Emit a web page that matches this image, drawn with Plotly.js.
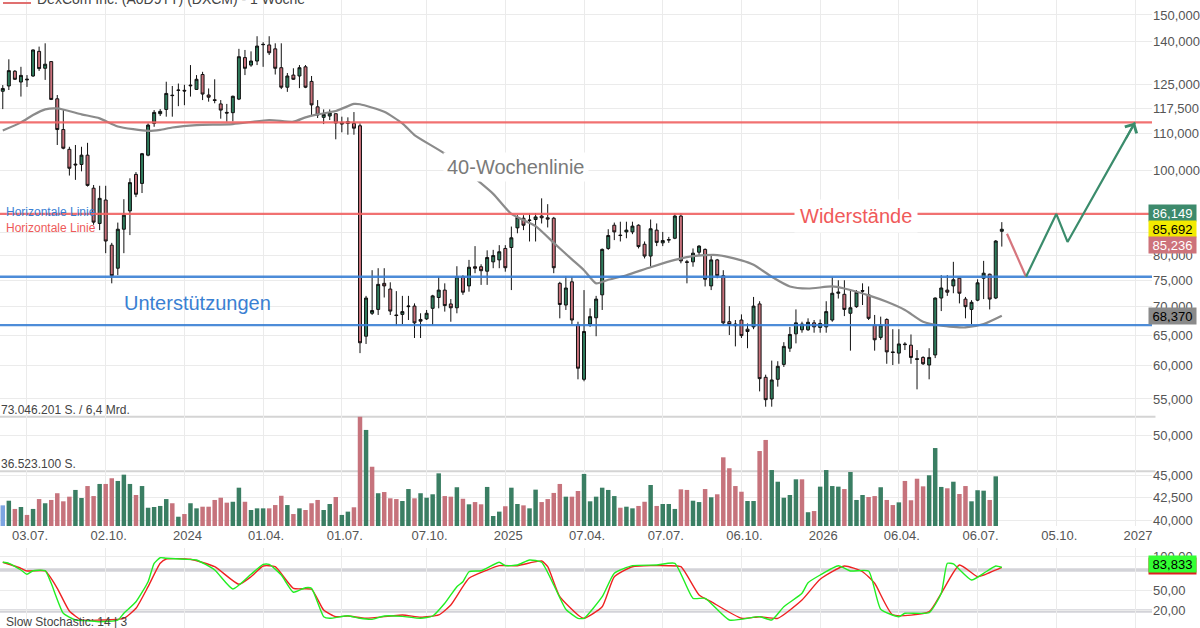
<!DOCTYPE html>
<html><head><meta charset="utf-8">
<script src="https://cdn.plot.ly/plotly-3.0.1.min.js"></script>
<style>html,body{margin:0;padding:0;background:#fff}#chart{width:1200px;height:628px}</style>
</head><body><div id="chart"></div>
<script>
// ---- weekly candles, DexCom (EUR), first week 2023-06-05 ----
const firstWeek = '2023-06-05';
const open = [122.9,124.6,129.5,125.9,126.6,127.9,136.4,130.5,132.8,120.5,
111.2,105.6,101.6,101.5,104.0,95.4,87.0,92.5,82.2,77.4,
85.7,89.9,98.9,96.6,104.0,113.0,115.9,117.2,121.5,123.3,
123.2,124.9,123.5,128.4,121.7,120.2,118.9,116.3,116.2,120.4,
134.2,131.6,133.0,138.8,138.7,137.3,130.7,124.2,128.2,127.9,
131.0,126.1,118.0,114.8,115.2,115.9,112.8,113.0,113.0,112.3,
64.8,68.8,69.5,74.4,73.3,68.5,68.6,70.0,70.1,67.7,
67.8,69.7,71.7,73.1,70.5,69.8,75.7,73.9,77.7,77.7,
76.8,78.7,79.1,81.5,81.7,86.0,88.2,87.8,87.9,88.7,
88.3,88.2,74.4,70.3,74.7,66.8,57.9,66.9,68.0,72.2,
81.5,86.6,84.4,85.1,85.1,86.6,82.4,79.9,85.5,82.7,
83.3,83.7,88.7,78.7,78.7,80.7,81.3,73.9,79.1,75.9,
67.3,66.9,67.6,66.0,66.4,70.5,58.2,55.0,57.9,60.2,
62.8,65.2,65.9,65.9,67.1,66.3,66.4,67.6,72.5,72.3,
68.8,70.0,73.0,72.2,66.7,64.6,67.7,62.2,62.0,63.5,
63.3,61.1,61.3,60.1,61.7,71.6,73.1,73.9,75.4,71.4,
69.5,71.2,75.4,76.2,71.6,85.236];
const high = [124.9,133.6,129.9,131.0,128.2,137.1,138.1,139.3,133.0,121.7,
117.0,106.3,106.8,106.3,107.4,96.2,96.0,96.0,82.7,87.2,
92.7,97.9,99.5,104.6,113.0,117.0,117.3,126.0,124.6,125.4,
125.0,131.6,128.2,129.3,123.8,126.8,120.1,118.9,121.5,137.3,
136.9,136.4,141.9,139.7,141.9,139.3,139.3,128.9,130.5,131.6,
131.6,127.9,120.1,117.2,117.2,115.9,115.0,114.8,116.4,113.0,
72.0,77.0,77.4,77.4,74.6,72.9,72.0,72.0,70.6,68.8,
69.4,72.2,75.7,74.4,71.4,77.8,76.0,79.1,82.0,78.2,
81.1,81.2,82.2,82.2,86.3,88.9,88.9,89.3,89.4,92.9,
91.5,88.5,74.7,75.8,75.7,67.3,73.1,69.7,72.0,81.5,
85.7,87.2,87.4,87.4,87.4,86.8,83.0,87.9,87.0,85.1,
84.0,89.3,89.4,79.1,81.5,82.2,81.5,80.1,79.3,77.0,
70.1,67.6,68.6,67.0,71.8,71.0,58.6,60.8,60.7,63.8,
66.4,69.5,67.3,67.9,67.6,67.7,71.0,75.7,75.0,75.0,
73.2,73.1,74.4,73.8,68.5,68.2,67.9,66.0,66.0,63.8,
65.1,62.5,61.5,62.8,71.7,76.0,76.0,78.7,75.5,71.8,
71.2,75.2,78.9,76.3,83.3,87.3];
const low = [117.3,123.3,126.6,121.2,124.3,127.6,129.6,126.6,120.1,106.8,
105.6,98.6,97.5,99.7,95.8,86.7,85.5,80.5,74.4,76.0,
80.5,84.4,93.2,94.2,103.7,112.0,115.2,115.0,115.0,118.2,
118.5,121.2,123.3,120.1,119.6,119.1,114.4,113.5,113.6,120.1,
128.2,131.0,131.6,131.0,135.1,128.4,123.6,122.7,126.6,123.9,
123.9,115.5,114.6,112.8,114.0,108.4,110.4,109.7,109.7,62.0,
63.5,68.5,68.5,71.7,68.5,66.7,66.9,67.6,64.5,64.5,
67.6,66.7,69.7,69.1,67.3,68.8,72.2,72.8,76.4,74.1,
74.1,77.4,77.4,76.7,73.1,84.8,85.5,83.0,83.0,87.0,
86.1,76.4,67.9,69.4,66.9,57.9,57.6,66.4,64.8,69.4,
81.2,83.3,83.0,83.7,84.6,81.5,79.4,77.7,82.0,82.0,
82.7,83.5,78.4,74.4,77.7,80.1,73.8,73.1,75.4,66.7,
65.0,63.1,64.5,62.8,66.0,56.1,53.9,53.9,56.8,59.8,
62.2,63.6,65.4,65.7,65.4,65.4,65.4,67.3,71.5,68.3,
62.4,69.8,70.3,67.6,62.4,64.2,60.3,60.1,60.3,62.5,
60.3,56.4,60.1,57.9,61.2,69.2,72.0,72.5,70.6,67.9,
66.9,71.0,71.4,69.5,71.4,81.9];
const close = [123.8,129.7,126.8,128.1,126.8,136.9,130.4,131.9,120.3,111.2,
105.9,100.5,101.4,104.0,96.1,87.3,92.9,83.1,75.9,85.7,
88.9,96.8,93.9,104.4,112.5,116.3,116.6,122.2,121.6,123.2,
123.0,124.7,126.8,122.0,121.0,120.0,117.0,116.1,121.3,134.5,
130.5,133.0,138.3,138.9,135.9,130.5,124.2,127.9,126.8,130.7,
124.2,118.6,115.5,115.7,116.1,113.1,113.3,113.5,111.6,63.7,
71.6,69.3,74.2,73.9,69.2,68.4,69.1,70.1,67.1,67.4,
68.8,72.0,73.1,70.2,69.8,75.7,72.7,77.6,77.4,76.9,
79.6,80.0,80.8,77.5,83.8,88.4,86.6,87.7,88.5,88.3,
88.0,77.5,70.4,73.5,67.6,59.6,65.6,68.2,71.4,81.3,
84.3,85.1,84.3,85.5,86.4,81.9,79.9,85.8,82.8,83.2,
83.4,88.7,78.9,78.6,80.5,82.0,75.2,79.1,75.9,67.1,
66.8,66.6,64.9,65.6,70.1,58.0,54.9,57.8,59.9,63.1,
65.1,67.1,66.9,67.2,66.4,67.0,69.1,72.5,72.7,69.5,
69.8,72.7,72.9,67.9,64.2,66.7,62.2,62.1,63.5,63.4,
61.3,61.0,60.3,61.3,71.6,73.5,72.7,75.1,72.5,70.0,
70.8,74.5,76.4,71.4,83.1,85.692];
// weekly volume in millions of shares
const volumeMillions = [13.8,16.9,11.4,12.7,7.4,11.4,18.0,15.2,17.4,21.9,
16.5,19.6,24.1,18.7,26.7,20.0,28.1,28.1,31.9,30.1,
34.3,28.1,20.7,26.7,12.2,12.7,13.4,18.0,15.2,6.2,
8.0,15.2,11.8,12.9,12.9,17.4,18.9,15.6,16.2,25.6,
16.2,10.7,11.8,11.8,11.8,14.0,20.2,14.0,8.0,11.8,
10.7,15.2,17.4,10.7,14.7,19.4,7.4,9.6,12.5,73.0,
64.2,39.6,21.9,22.7,18.5,18.0,16.7,24.7,18.5,21.9,
18.9,21.2,35.2,20.0,19.6,25.9,18.2,14.5,16.0,14.5,
26.1,6.7,9.6,13.2,25.6,14.7,13.8,11.8,24.3,16.0,
18.0,22.1,28.1,19.6,19.6,23.4,34.8,16.5,19.6,25.6,
24.1,20.0,12.2,12.9,11.8,13.4,16.2,27.4,13.4,14.7,
14.7,11.4,24.5,24.1,16.9,16.0,24.7,19.2,21.2,45.9,
38.6,26.7,22.9,16.7,16.7,50.1,57.5,37.4,29.6,18.9,
20.7,31.2,31.2,9.2,10.0,26.3,37.4,26.7,26.3,24.7,
36.1,17.4,20.7,19.4,20.0,25.9,17.4,14.0,15.8,30.1,
17.2,31.6,26.5,33.9,52.1,26.1,25.2,29.6,21.4,26.7,
16.5,23.9,23.6,17.4,33.2,null];
const volumeMax = 73046201, volumeHalf = 36523100;

// 40-week moving average (read at week index)
const maIdx = [0,3,5,7,9,13,16,19,24,26,28,32,38,44,48,50,52,55,58,59,63,66,68,73,78,81,84,88,91,94,96,98,100,103,107,111,114,118,122,124,127,130,133,137,139,143,146,149,152,155,159,162,165];
const maVal = [110.9,113.3,115.5,117.2,117.5,115.7,114.5,112.1,110.8,111.1,111.8,112.5,112.8,114.0,113.5,114.8,115.7,116.7,118.9,118.8,116.5,113.0,109.6,104.4,97.9,94.0,89.2,86.4,82.7,79.2,77.0,74.4,75.1,76.0,77.6,79.1,79.9,80.1,79.0,78.1,75.7,73.8,73.4,73.8,73.4,72.1,70.9,69.4,67.3,66.6,66.3,66.9,68.37];

// Slow stochastic 14|3 (%K green, %D red)
const kIdx = [0,1,3,4,5,7,8,10,12,14,16,19,20,22,24,25,26,27,30,32,35,38,41,43,44,46,48,50,51,53,54,57,59,61,63,66,69,71,73,75,76,77,79,82,83,85,87,89,91,93,95,96,99,101,104,108,111,114,116,120,125,127,129,132,133,135,138,140,143,145,148,149,153,155,156,157,160,162,164,165];
const kVal = [91.5,90.0,80.1,73.8,79.1,79.1,60.6,16.5,6.6,5.6,4.1,6.6,16.5,33.5,62.9,90.0,98.2,97.4,95.9,94.9,80.1,52.2,73.8,88.5,88.5,72.8,47.4,54.1,53.2,11.5,9.1,12.9,9.1,7.6,12.5,12.0,9.1,12.5,31.2,55.6,62.9,77.6,79.1,91.5,86.5,87.5,94.9,91.5,58.1,22.4,9.1,9.1,40.9,75.3,86.5,87.5,90.0,38.5,38.5,6.6,11.5,6.6,26.2,45.9,61.5,72.8,86.5,78.7,78.7,22.4,11.5,16.5,17.4,45.9,90.0,89.0,65.4,75.3,86.0,83.833];
const dIdx = [0,3,4,7,9,11,13,16,20,22,24,26,27,31,35,39,41,43,45,48,51,53,55,57,60,66,69,72,74,77,80,82,85,89,90,92,95,96,99,101,104,110,112,115,117,122,125,128,132,135,139,142,144,147,153,155,158,161,162,165];
const dVal = [91.5,82.6,78.7,78.7,53.2,19.9,6.6,6.6,9.1,23.8,55.6,90.0,96.3,95.9,85.0,59.1,70.3,86.0,85.0,53.2,51.8,21.3,11.5,12.5,9.1,14.0,10.6,14.0,28.7,67.9,80.1,86.5,86.5,93.4,85.0,40.9,14.0,9.1,26.2,70.3,85.0,86.5,85.0,43.4,33.5,9.1,11.5,9.1,36.0,66.5,86.0,77.6,60.6,14.0,18.8,45.9,87.5,70.3,72.8,84.1];

// drawn levels and projection
const resistanceLevels = [113.3, 89.2];
const supportLevels = [75.7, 66.7];
const projRedX = ['2026-08-09','2026-08-31'];
const projRedY = [84.7, 75.7];
const projGreenX = ['2026-08-31','2026-10-05','2026-10-18','2027-01-04'];
const projGreenY = [75.7, 89.2, 82.9, 113.3];

// labels on right scale
const lastAsk = 86.149, lastPrice = 85.692, lastBid = 85.236, maLast = 68.370, stochLast = 83.833;

// axis ticks
const dateTicks = ['2023-07-03','2023-10-02','2024-01-01','2024-04-01','2024-07-01','2024-10-07','2025-01-06','2025-04-07','2025-07-07','2025-10-06','2026-01-05','2026-04-06','2026-07-06','2026-10-05','2027-01-04'];
const dateTickText = ['03.07.','02.10.','2024','01.04.','01.07.','07.10.','2025','07.04.','07.07.','06.10.','2026','06.04.','06.07.','05.10.','2027'];
const priceTicks = [40,42.5,45,50,55,60,65,70,75,80,85,100,110,117.5,125,140,150];
const stochTicks = [20,50,100];

// ---- build ----
const DAY = 864e5;
const t0 = Date.parse(firstWeek + 'T00:00:00Z');
const weeks = open.map((_, i) => new Date(t0 + i * 7 * DAY).toISOString().slice(0, 10));
const xRange = ['2023-06-01 19:00', '2027-01-23 15:40'];
const W = 1152, H = 628;
const px = x => x / W, py = y => 1 - y / H;
const fmt3 = v => v.toFixed(3).replace('.', ',');
const fmt2 = v => v.toFixed(2).replace('.', ',');
const L = Math.log10;

const GREEN = '#2f7b5c', RED = '#c9717b';
const volColors = close.map((c, i) => i === 0 ? '#7ea5e2' : (c >= close[i - 1] ? '#3a7e63' : '#c6737c'));

const levelTrace = (v, color) => ({type: 'scatter', mode: 'lines', x: xRange, y: [v, v], xaxis: 'x', yaxis: 'y',
  line: {color: color, width: 2.4}, opacity: 0.9, hoverinfo: 'skip', cliponaxis: true});

const traces = [
  {type: 'bar', x: weeks, y: volumeMillions.map(v => v == null ? null : v * 1e6),
   xaxis: 'x', yaxis: 'y2', width: 7 * DAY * 0.74,
   marker: {color: volColors, line: {width: 0}}, hoverinfo: 'skip'},
  {type: 'candlestick', x: weeks, open: open, high: high, low: low, close: close,
   xaxis: 'x', yaxis: 'y', whiskerwidth: 0,
   increasing: {line: {color: '#111', width: 1}, fillcolor: GREEN},
   decreasing: {line: {color: '#111', width: 1}, fillcolor: RED}, hoverinfo: 'skip'},
  {type: 'scatter', mode: 'lines', x: maIdx.map(i => weeks[i]), y: maVal, xaxis: 'x', yaxis: 'y',
   line: {color: '#8b8b8b', width: 2.2, shape: 'spline', smoothing: 0.6}, hoverinfo: 'skip'},
  ...resistanceLevels.map(v => levelTrace(v, '#f06262')),
  ...supportLevels.map(v => levelTrace(v, '#3a7fd4')),
  {type: 'scatter', mode: 'lines', x: projRedX, y: projRedY, xaxis: 'x', yaxis: 'y',
   line: {color: '#d6767e', width: 2.2}, hoverinfo: 'skip'},
  {type: 'scatter', mode: 'lines', x: projGreenX, y: projGreenY, xaxis: 'x', yaxis: 'y',
   line: {color: '#3b8c6c', width: 2.2}, hoverinfo: 'skip'},
  {type: 'scatter', mode: 'lines', x: dIdx.map(i => weeks[i]), y: dVal, xaxis: 'x', yaxis: 'y3',
   line: {color: '#ee2222', width: 1.4, shape: 'spline', smoothing: 0.5}, hoverinfo: 'skip'},
  {type: 'scatter', mode: 'lines', x: kIdx.map(i => weeks[i]), y: kVal, xaxis: 'x', yaxis: 'y3',
   line: {color: '#22ee22', width: 1.4, shape: 'spline', smoothing: 0.5}, hoverinfo: 'skip'}
];

const shapes = [
  {type: 'line', xref: 'paper', x0: 0, x1: 1.003, yref: 'y2', y0: volumeMax, y1: volumeMax, line: {color: '#d4d4d4', width: 2}, layer: 'below'},
  {type: 'line', xref: 'paper', x0: 0, x1: 1.003, yref: 'y2', y0: volumeHalf, y1: volumeHalf, line: {color: '#d4d4d4', width: 2}, layer: 'below'},
  {type: 'line', xref: 'paper', x0: 0, x1: 1, yref: 'y3', y0: 80, y1: 80, line: {color: '#d3d3d8', width: 3.5}, layer: 'below'},
  {type: 'line', xref: 'paper', x0: 0, x1: 1, yref: 'y3', y0: 20, y1: 20, line: {color: '#d3d3d8', width: 3.5}, layer: 'below'},
  {type: 'line', xref: 'paper', yref: 'paper', x0: px(3), x1: px(31), y0: py(3), y1: py(3), line: {color: '#e07070', width: 2}}
];

const FONT = 'Liberation Sans, Arial, sans-serif';
const txt = (text, x, y, size, color, extra) => Object.assign({text: text, xref: 'paper', yref: 'paper',
  x: px(x), y: py(y), showarrow: false, font: {family: FONT, size: size, color: color}}, extra || {});
const box = (text, yref, y, bg, fg, shift) => ({text: text, xref: 'paper', x: px(1148), xanchor: 'left',
  yref: yref, y: y, yanchor: 'middle', yshift: shift || 0, showarrow: false, bgcolor: bg,
  width: 44, height: 13, borderpad: 1.5, align: 'center', font: {family: FONT, size: 13, color: fg}});

const annotations = [
  txt('DexCom Inc. (A0D9TT) (DXCM) - 1 Woche', 36, -1, 14, '#444', {xanchor: 'left', yanchor: 'middle', borderpad: 0}),
  txt('Horizontale Linie', 5, 212, 12, '#3a7fd4', {xanchor: 'left', yanchor: 'middle', borderpad: 0}),
  txt('Horizontale Linie', 5, 228, 12, '#ee5a5a', {xanchor: 'left', yanchor: 'middle', borderpad: 0}),
  txt('Unterstützungen', 197, 303, 20, '#3a80d2', {xanchor: 'center', yanchor: 'middle'}),
  txt('Widerstände', 855.5, 216, 20, '#f05a5a', {xanchor: 'center', yanchor: 'middle', bgcolor: '#fff', borderpad: 5}),
  txt('40-Wochenlinie', 516, 167, 20, '#7a7a7a', {xanchor: 'center', yanchor: 'middle', bgcolor: '#fff', borderpad: 3}),
  {text: '73.046.201 S. / 6,4 Mrd.', xref: 'paper', x: 0, xanchor: 'left', yref: 'y2', y: volumeMax, yanchor: 'bottom', yshift: -1,
   showarrow: false, borderpad: 0, font: {family: FONT, size: 12, color: '#444'}},
  {text: '36.523.100 S.', xref: 'paper', x: 0, xanchor: 'left', yref: 'y2', y: volumeHalf, yanchor: 'bottom', yshift: -1,
   showarrow: false, borderpad: 0, font: {family: FONT, size: 12, color: '#444'}},
  txt('Slow Stochastic: 14 | 3', 5, 621.5, 12, '#444', {xanchor: 'left', yanchor: 'middle', borderpad: 0}),
  {x: projGreenX[projGreenX.length - 1], y: L(projGreenY[projGreenY.length - 1]), xref: 'x', yref: 'y', text: '',
   showarrow: true, ax: -10, ay: 18, arrowhead: 4, arrowsize: 1.3, arrowwidth: 2, arrowcolor: '#3b8c6c', standoff: 0},
  box(fmt3(lastAsk), 'y', L(lastPrice), '#3d8a6c', '#fff', 16),
  box(fmt3(lastPrice), 'y', L(lastPrice), '#f2ea00', '#000', 0),
  box(fmt3(lastBid), 'y', L(lastPrice), '#cd737b', '#fff', -16),
  box(fmt3(maLast), 'y', L(maLast), '#8a8a8a', '#000', 0),
  box(fmt3(stochLast), 'y3', stochLast, '#e02020', '#000', 1),
  box(fmt3(stochLast), 'y3', stochLast, '#33ff33', '#000', 3)
];

const layout = {
  width: 1200, height: 628, margin: {l: 0, r: 48, t: 0, b: 0},
  paper_bgcolor: '#fff', plot_bgcolor: '#fff', showlegend: false,
  font: {family: FONT, size: 13, color: '#555'},
  xaxis: {type: 'date', range: xRange, anchor: 'y',
    tickmode: 'array', tickvals: dateTicks, ticktext: dateTickText, ticks: '', ticklabelshift: 3,
    showgrid: true, gridcolor: '#ebebeb', gridwidth: 1, zeroline: false, showline: false,
    rangeslider: {visible: false}, tickfont: {size: 13, color: '#555'}, fixedrange: true},
  yaxis: {type: 'log', domain: [1 - 526 / 628, 1], range: [1.59621, 2.19310], side: 'right', anchor: 'x',
    tickmode: 'array', tickvals: priceTicks, ticktext: priceTicks.map(fmt3), ticks: '',
    showgrid: true, gridcolor: '#ebebeb', zeroline: false, showline: false, tickfont: {size: 13, color: '#555'}},
  yaxis2: {overlaying: 'y', anchor: 'x', range: [0, 351.5e6], visible: false, showgrid: false},
  yaxis3: {domain: [0, 1 - 548 / 628], range: [-5.15, 112.5], side: 'right', anchor: 'x',
    tickmode: 'array', tickvals: stochTicks, ticktext: stochTicks.map(fmt2), ticks: '',
    showgrid: true, gridcolor: '#ebebeb', zeroline: false, showline: false, tickfont: {size: 13, color: '#555'}},
  shapes: shapes, annotations: annotations
};

Plotly.newPlot('chart', traces, layout, {staticPlot: true, displayModeBar: false});
</script></body></html>
